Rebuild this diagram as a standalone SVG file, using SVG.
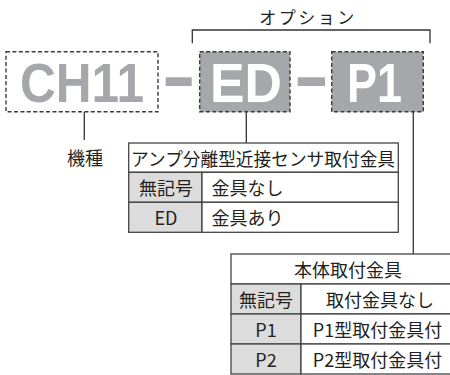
<svg xmlns="http://www.w3.org/2000/svg" width="450" height="375" viewBox="0 0 450 375">
<style>
.box{stroke:#3a3a3a;stroke-width:1.4;stroke-dasharray:4 2.4}
.big{font-family:"Liberation Sans",Arial,sans-serif;font-weight:bold;font-size:55px}
.t{font-family:"Noto Sans CJK JP","Noto Sans",sans-serif;font-size:18px;fill:#231f20;dominant-baseline:central}
.c{text-anchor:middle}
.ln{stroke:#333;stroke-width:1.3;fill:none}
.cell{stroke:#444;stroke-width:1.3}
.key{fill:#dcdcdd}
.val{fill:#fff}
</style>
<rect width="450" height="375" fill="#fff"/>
<g id="connectors">
<path class="ln" d="M192.3 43.3V30H430V43.3"/>
<path class="ln" d="M84.3 111.7V140"/>
<path class="ln" d="M246.3 111.7V143"/>
<path class="ln" d="M413.3 111.7V254"/>
<rect x="165.7" y="77.3" width="26" height="8.7" fill="#a6a7aa"/>
<rect x="297.7" y="77.3" width="27.3" height="8.7" fill="#a6a7aa"/>
</g>
<g id="option-label"><text class="t c" x="308" y="16" style="letter-spacing:2.5px;font-size:17px">オプション</text></g>
<g id="node-ch11">
<rect class="box" x="6" y="51.7" width="152" height="60" fill="#fff"/>
<text class="big" x="82" y="102" text-anchor="middle" fill="#a6a7aa" textLength="124" lengthAdjust="spacingAndGlyphs">CH11</text>
</g>
<g id="node-ed">
<rect class="box" x="199.7" y="51.7" width="90.3" height="60" fill="#a6a7aa"/>
<text class="big" x="246" y="102" text-anchor="middle" fill="#fff" textLength="72" lengthAdjust="spacingAndGlyphs">ED</text>
</g>
<g id="node-p1">
<rect class="box" x="331.7" y="51.7" width="91.6" height="60" fill="#a6a7aa"/>
<text class="big" x="374.5" y="102" text-anchor="middle" fill="#fff" textLength="55" lengthAdjust="spacingAndGlyphs">P1</text>
</g>
<g id="label-kishu"><text class="t c" x="85" y="157">機種</text></g>
<g id="table-ed">
<rect class="cell val" x="128.7" y="143" width="269.6" height="29.3"/>
<rect class="cell key" x="128.7" y="172.3" width="73.3" height="30"/>
<rect class="cell val" x="202" y="172.3" width="196.3" height="30"/>
<rect class="cell key" x="128.7" y="202.3" width="73.3" height="30"/>
<rect class="cell val" x="202" y="202.3" width="196.3" height="30"/>
<text class="t" x="131" y="157.7" textLength="264" lengthAdjust="spacingAndGlyphs">アンプ分離型近接センサ取付金具</text>
<text class="t c" x="166" y="187.3">無記号</text>
<text class="t" x="211.5" y="187.3">金具なし</text>
<text class="t c" x="166" y="217.3">ED</text>
<text class="t" x="211.5" y="217.3">金具あり</text>
</g>
<g id="table-p1">
<rect class="cell val" x="231" y="254" width="235" height="30"/>
<rect class="cell key" x="231" y="284" width="70" height="30"/>
<rect class="cell val" x="301" y="284" width="165" height="30"/>
<rect class="cell key" x="231" y="314" width="70" height="30"/>
<rect class="cell val" x="301" y="314" width="165" height="30"/>
<rect class="cell key" x="231" y="344" width="70" height="30"/>
<rect class="cell val" x="301" y="344" width="165" height="30"/>
<text class="t c" x="348" y="269">本体取付金具</text>
<text class="t c" x="266" y="299">無記号</text>
<text class="t c" x="380" y="299">取付金具なし</text>
<text class="t c" x="266" y="329">P1</text>
<text class="t c" x="377.5" y="329">P1型取付金具付</text>
<text class="t c" x="266" y="359">P2</text>
<text class="t c" x="377.5" y="359">P2型取付金具付</text>
</g>
</svg>
